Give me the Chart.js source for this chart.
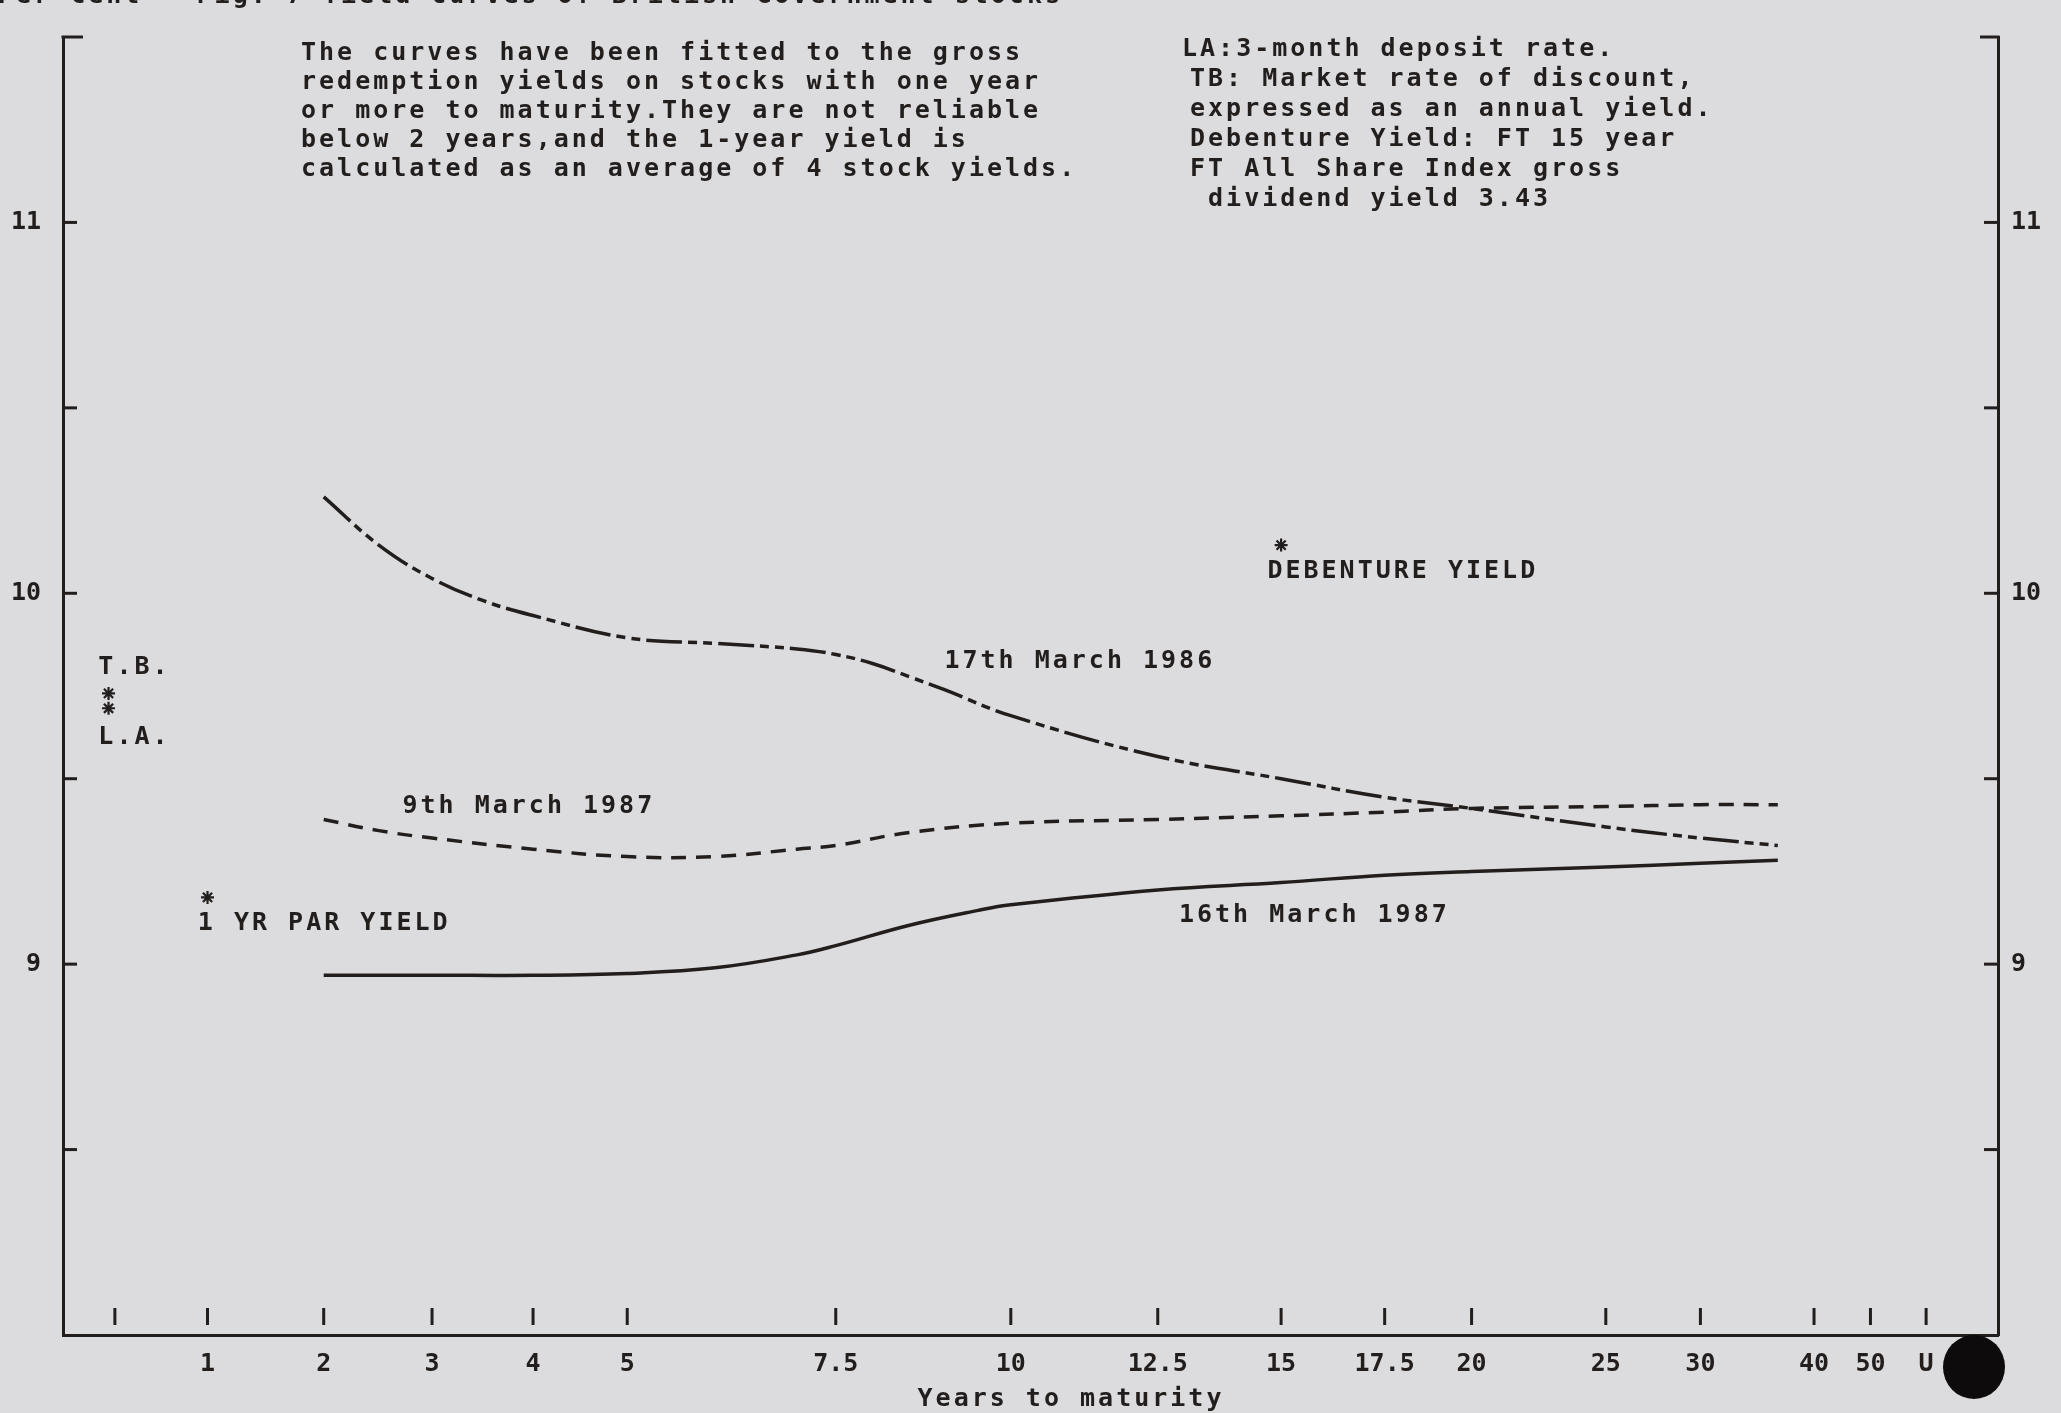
<!DOCTYPE html>
<html>
<head>
<meta charset="utf-8">
<title>Yield curves</title>
<script src="https://cdn.jsdelivr.net/npm/chart.js@4.4.1/dist/chart.umd.min.js"></script>
<style>
  html, body { margin: 0; padding: 0; background: #dcdcde; }
  #yc { display: block; }
</style>
</head>
<body>
<canvas id="yc" width="2061" height="1413"></canvas>
<script>
// x axis: years to maturity (1000 stands for undated)
const tickYears  = [0.25, 1, 2, 3, 4, 5, 7.5, 10, 12.5, 15, 17.5, 20, 25, 30, 40, 50, 1000];
const tickLabels = ["", "1", "2", "3", "4", "5", "7.5", "10", "12.5", "15", "17.5", "20", "25", "30", "40", "50", "U"];

// y axis: per cent
const yMin = 8;
const yMax = 11.5;
const yLabelled = [9, 10, 11];

// 17th March 1986 (dash-dot)
const yearsMar86 = [2, 2.5, 3, 3.5, 4, 5, 6, 7, 7.5, 8, 8.5, 9, 10, 12.5, 15, 17.5, 20, 25, 30, 36];
const yieldMar86 = [10.26, 10.13, 10.04, 9.98, 9.94, 9.88, 9.865, 9.85, 9.835, 9.81, 9.775, 9.74, 9.67, 9.56, 9.50, 9.45, 9.42, 9.37, 9.34, 9.32];

// 9th March 1987 (dashed)
const yearsMar9 = [2, 2.5, 3, 4, 5, 6, 7, 7.5, 8.5, 10, 12.5, 15, 17.5, 20, 25, 30, 36];
const yieldMar9 = [9.39, 9.36, 9.34, 9.31, 9.29, 9.29, 9.31, 9.32, 9.355, 9.38, 9.39, 9.40, 9.41, 9.42, 9.425, 9.43, 9.43];

// 16th March 1987 (solid)
const yearsMar16 = [2, 3, 4, 5, 6, 7, 7.5, 8.5, 9.5, 10, 12.5, 15, 17.5, 20, 25, 30, 36];
const yieldMar16 = [8.97, 8.97, 8.97, 8.975, 8.99, 9.025, 9.05, 9.105, 9.145, 9.16, 9.20, 9.22, 9.24, 9.25, 9.262, 9.272, 9.28];

// single rates shown as asterisks
const markerNames = ["T.B.", "L.A.", "1 YR PAR YIELD", "DEBENTURE YIELD"];
const markerYears = [0.2, 0.2, 1, 15];
const markerRates = [9.73, 9.69, 9.18, 10.13];

// text placed in data units (years, per cent)
const noteTexts = ["T.B.", "L.A.", "1 YR PAR YIELD", "DEBENTURE YIELD", "17th March 1986", "9th March 1987", "16th March 1987"];
const noteYears = [0.12, 0.12, 0.92, 14.7, 9.0, 2.72, 12.9];
const noteRates = [9.80, 9.61, 9.11, 10.06, 9.815, 9.425, 9.13];

const notesLeft = [
  "The curves have been fitted to the gross",
  "redemption yields on stocks with one year",
  "or more to maturity.They are not reliable",
  "below 2 years,and the 1-year yield is",
  "calculated as an average of 4 stock yields.",
];
const notesRight = [
  "LA:3-month deposit rate.",
  "TB: Market rate of discount,",
  "expressed as an annual yield.",
  "Debenture Yield: FT 15 year",
  "FT All Share Index gross",
  " dividend yield 3.43",
];

const INK = "#221e1d";
const PAPER = "#dcdcde";
const FONT_FAMILY = "'DejaVu Sans Mono', 'Liberation Mono', monospace";
const TEXT_FONT = "bold 25px " + FONT_FAMILY;
const K = 0.07;                  // maturity axis compression
const X_FRAME = [-0.0108, 1.039]; // axis ends in compressed units

const toU = t => 1 - Math.exp(-K * t);
const pts = (xs, ys) => xs.map((x, i) => ({ x, y: ys[i] }));

class MaturityScale extends Chart.Scale {
  static id = "maturity";
  static defaults = {};

  determineDataLimits() {
    this.min = -0.15;
    this.max = tickYears[tickYears.length - 1];
  }
  buildTicks() {
    return tickYears.map(v => ({ value: v }));
  }
  getLabelForValue(v) {
    return String(v);
  }
  configure() {
    super.configure();
    this._uStart = X_FRAME[0];
    this._uRange = X_FRAME[1] - X_FRAME[0];
  }
  getPixelForValue(v) {
    return this.getPixelForDecimal((toU(v) - this._uStart) / this._uRange);
  }
  getValueForPixel(p) {
    const u = this.getDecimalForPixel(p) * this._uRange + this._uStart;
    return -Math.log(1 - u) / K;
  }
}
Chart.register(MaturityScale);

function drawText(ctx, text, x, y, align) {
  ctx.save();
  ctx.font = TEXT_FONT;
  ctx.letterSpacing = "3px";
  ctx.fillStyle = INK;
  ctx.textBaseline = "middle";
  ctx.textAlign = align || "left";
  ctx.fillText(text, x, y);
  ctx.restore();
}

function line(ctx, x1, y1, x2, y2) {
  ctx.beginPath();
  ctx.moveTo(x1, y1);
  ctx.lineTo(x2, y2);
  ctx.stroke();
}

const paperPlugin = {
  id: "paper",
  beforeDraw(chart) {
    const ctx = chart.ctx;
    ctx.save();
    ctx.fillStyle = PAPER;
    ctx.fillRect(0, 0, chart.width, chart.height);
    ctx.restore();
  },
  afterDraw(chart) {
    const ctx = chart.ctx;
    const { left, right, top, bottom } = chart.chartArea;
    const xs = chart.scales.x, ys = chart.scales.y;

    ctx.save();
    ctx.strokeStyle = INK;
    ctx.lineWidth = 3;

    // inward tick marks on both value axes
    ys.ticks.forEach(t => {
      if (t.value <= yMin || t.value >= yMax) return;
      const py = ys.getPixelForValue(t.value);
      line(ctx, left, py, left + 14, py);
      line(ctx, right - 14, py, right, py);
    });
    // top brackets
    line(ctx, left - 1.5, top, left + 20, top);
    line(ctx, right - 18, top, right + 1.5, top);
    // maturity marks sit above the base line
    xs.ticks.forEach(t => {
      const px = xs.getPixelForValue(t.value);
      line(ctx, px, bottom - 27, px, bottom - 10);
    });
    ctx.restore();

    drawText(ctx, "Per Cent   Fig. 7 Yield curves of British Government stocks", -2, -4);
    notesLeft.forEach((s, i) => drawText(ctx, s, 301, 53 + i * 29.2));
    notesRight.forEach((s, i) => drawText(ctx, s, i === 0 ? 1182 : 1190, 49 + i * 30));
    noteTexts.forEach((s, i) =>
      drawText(ctx, s, xs.getPixelForValue(noteYears[i]), ys.getPixelForValue(noteRates[i])));
    drawText(ctx, "Years to maturity", 1071, 1399, "center");

    // ink blot over the corner of the scan
    ctx.save();
    ctx.fillStyle = "#0d0b0b";
    ctx.beginPath();
    ctx.ellipse(1974, 1367, 31, 32, 0, 0, Math.PI * 2);
    ctx.fill();
    ctx.restore();
  },
};

const tickFont = { family: FONT_FAMILY, size: 25, weight: "bold" };

const curve = (label, xs, ys, dash) => ({
  label,
  data: pts(xs, ys),
  borderColor: INK,
  borderWidth: 3.5,
  borderDash: dash,
  pointRadius: 0,
  tension: 0.4,
});

new Chart(document.getElementById("yc"), {
  type: "line",
  data: {
    datasets: [
      curve("17th March 1986", yearsMar86, yieldMar86, [36, 6, 9, 6, 9, 6]),
      curve("9th March 1987", yearsMar9, yieldMar9, [15, 10]),
      curve("16th March 1987", yearsMar16, yieldMar16, []),
      {
        label: markerNames.join(", "),
        data: pts(markerYears, markerRates),
        showLine: false,
        pointStyle: "star",
        pointRadius: 6.5,
        pointBorderWidth: 2.2,
        pointBorderColor: INK,
        pointBackgroundColor: INK,
      },
    ],
  },
  options: {
    responsive: false,
    animation: false,
    devicePixelRatio: 1,
    layout: { padding: { top: 18, left: 0, right: 0, bottom: 0 } },
    plugins: {
      legend: { display: false },
      tooltip: { enabled: false },
    },
    scales: {
      x: {
        type: "maturity",
        position: "bottom",
        grid: { display: false, drawTicks: false },
        border: { display: true, color: INK, width: 3 },
        ticks: {
          autoSkip: false,
          maxRotation: 0,
          minRotation: 0,
          padding: 14,
          color: INK,
          font: tickFont,
          callback: (v, i) => tickLabels[i],
        },
        afterFit: s => { s.height = 78; },
      },
      y: {
        type: "linear",
        position: "left",
        min: yMin,
        max: yMax,
        grid: { display: false, drawTicks: false },
        border: { display: true, color: INK, width: 3 },
        ticks: {
          stepSize: 0.5,
          padding: 22,
          color: INK,
          font: tickFont,
          callback: v => (yLabelled.includes(v) ? String(v) : ""),
        },
        afterFit: s => { s.width = 63; },
      },
      y2: {
        type: "linear",
        position: "right",
        min: yMin,
        max: yMax,
        grid: { display: false, drawTicks: false },
        border: { display: true, color: INK, width: 3 },
        ticks: {
          stepSize: 0.5,
          padding: 13,
          color: INK,
          font: tickFont,
          callback: v => (yLabelled.includes(v) ? String(v) : ""),
        },
        afterFit: s => { s.width = 63; },
      },
    },
  },
  plugins: [paperPlugin],
});
</script>
</body>
</html>
